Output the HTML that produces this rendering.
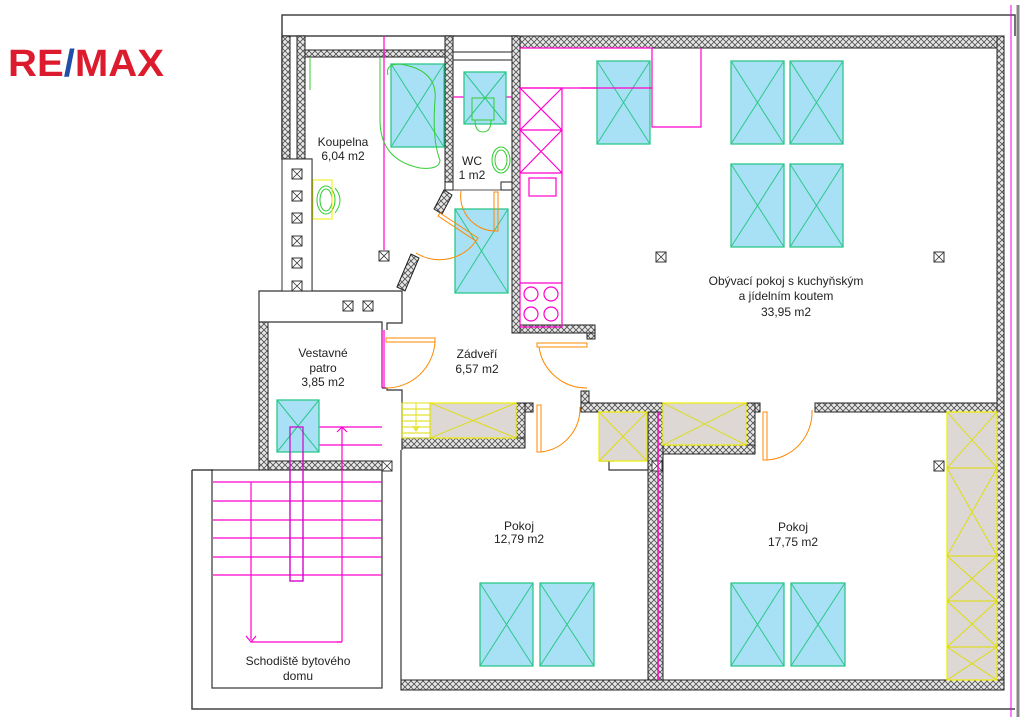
<!DOCTYPE html>
<html><head><meta charset="utf-8"><style>
html,body{margin:0;padding:0;background:#fff;width:1024px;height:717px;overflow:hidden}
svg{display:block}
text{font-family:"Liberation Sans","DejaVu Sans",sans-serif;font-size:12px;fill:#222}
</style></head><body>
<svg width="1024" height="717" viewBox="0 0 1024 717" xmlns="http://www.w3.org/2000/svg">
<defs>
<pattern id="h" width="6" height="6" patternUnits="userSpaceOnUse">
<rect width="6" height="6" fill="#e8e8e8"/>
<path d="M0,0L6,6M6,0L0,6" stroke="#555" stroke-width="0.9"/>
</pattern>
<g id="vb"><rect x="-5" y="-5" width="10" height="10" fill="#fff" stroke="#333" stroke-width="1"/><path d="M-5,-5L5,5M5,-5L-5,5" stroke="#333" stroke-width="0.8"/></g>
</defs>

<!-- Logo -->
<text x="8" y="76" textLength="156" lengthAdjust="spacingAndGlyphs" style="font-size:38px;font-weight:bold;fill:#dc1c2e">RE<tspan fill="#1f4fa8">/</tspan>MAX</text>

<!-- outer frame -->
<g fill="none" stroke="#444" stroke-width="1.5">
<path d="M282,160V15H1015V36"/>
<path d="M282,36H519"/>
<path d="M192,470V709H1015"/>
<path d="M192,470H213"/>
</g>
<line x1="1011" y1="5" x2="1011" y2="717" stroke="#e0e" stroke-width="1"/>
<line x1="1018" y1="5" x2="1018" y2="717" stroke="#888" stroke-width="3"/>

<!-- hatched walls -->
<g fill="url(#h)" stroke="#222" stroke-width="1">
<rect x="519" y="36" width="485" height="12"/>
<rect x="997" y="36" width="7" height="654"/>
<rect x="401" y="680" width="603" height="10"/>
<rect x="282" y="36" width="8" height="124"/>
<rect x="297" y="36" width="8" height="124"/>
<rect x="305" y="50" width="140" height="7"/>
<rect x="445" y="36" width="8" height="148"/>
<rect x="453" y="52" width="59" height="0" />
<rect x="512" y="36" width="8" height="297"/>
<rect x="520" y="325" width="75" height="8"/>
<rect x="587" y="333" width="8" height="6"/>
<rect x="259" y="322" width="9" height="148"/>
<rect x="268" y="461" width="114" height="9"/>
<rect x="402" y="438" width="123" height="10"/>
<rect x="516" y="403" width="9" height="35"/>
<rect x="525" y="403" width="8" height="9"/>
<rect x="581" y="403" width="179" height="9"/>
<rect x="648" y="412" width="15" height="268"/>
<rect x="663" y="445" width="92" height="9"/>
<rect x="746" y="403" width="9" height="42"/>
<rect x="815" y="403" width="182" height="9"/>
<rect x="581" y="391" width="8" height="12"/>
<polygon points="434,209 444,190 452,195 442,214"/>
<polygon points="397,287 411,254 419,258 405,291"/>
</g>
<!-- WC top -->
<rect x="453" y="52" width="59" height="8" fill="#fff" stroke="#222"/>
<rect x="445" y="182" width="8" height="8" fill="#fff" stroke="#222"/>
<rect x="501" y="182" width="11" height="8" fill="#fff" stroke="#222"/>
<line x1="453" y1="190" x2="501" y2="190" stroke="#555"/>

<!-- shaft & boxes -->
<g fill="none" stroke="#333" stroke-width="1.2">
<path d="M282,159H312V291"/>
<path d="M259,322V291H402V323H387V330"/>
<path d="M259,322H382V388"/>
<path d="M382,388H387V390H402V450"/>
<path d="M401,450V690"/>
<rect x="212" y="470" width="170" height="218"/>
<path d="M614,461H599"/>
<path d="M609,461V470H648"/>
</g>
<rect x="282" y="159" width="30" height="132" fill="#fff" stroke="#333"/>
<g>
<use href="#vb" x="297" y="174"/><use href="#vb" x="297" y="196"/><use href="#vb" x="297" y="218"/>
<use href="#vb" x="297" y="241"/><use href="#vb" x="297" y="263"/><use href="#vb" x="297" y="286"/>
<use href="#vb" x="348" y="306"/><use href="#vb" x="368" y="306"/>
<use href="#vb" x="384" y="256"/><use href="#vb" x="661" y="257"/><use href="#vb" x="939" y="257"/>
<use href="#vb" x="939" y="466"/><use href="#vb" x="657" y="466"/><use href="#vb" x="387" y="466"/>
</g>

<!-- magenta lines -->
<g fill="none" stroke="#f0c" stroke-width="1.2">
<path d="M520,48H652V127H701V48"/>
<path d="M453,97H512"/>
<path d="M520,88H652"/>
<path d="M384,36V250"/>
<path d="M658,412V680" stroke-width="1.5"/>
<rect x="520" y="88" width="42" height="239"/>
<path d="M520,88L562,130M562,88L520,130M520,130H562M520,130L562,173M562,130L520,173M520,173H562M520,283H562"/>
<rect x="529" y="178" width="27" height="18"/>
<circle cx="531" cy="294" r="7"/><circle cx="551" cy="294" r="7"/><circle cx="531" cy="314" r="7"/><circle cx="551" cy="314" r="7"/>
<path d="M213,482H382M213,501H382M213,520H382M213,538H382M213,557H382M213,575H382"/>
<path d="M251,482V640M342,427V642M251,642H342"/>
<path d="M246,636L251,642L256,636M337,642L342,642"/>
<path d="M337,432L342,427L347,432"/>
<rect x="290" y="427" width="13" height="154"/>
<path d="M303,427H382M303,445H382"/>
<path d="M382,330V388M384,330V388"/>
</g>

<!-- windows -->
<g fill="#a8e0f5" stroke="#2cc88a" stroke-width="1.3">
<rect x="597" y="61" width="53" height="83"/><rect x="731" y="61" width="53" height="83"/><rect x="790" y="61" width="53" height="83"/>
<rect x="731" y="164" width="53" height="83"/><rect x="790" y="164" width="53" height="83"/>
<rect x="480" y="583" width="53" height="83"/><rect x="540" y="583" width="54" height="83"/>
<rect x="731" y="583" width="53" height="83"/><rect x="791" y="583" width="54" height="83"/>
<rect x="391" y="64" width="53" height="83"/><rect x="464" y="72" width="42" height="52"/>
<rect x="455" y="209" width="53" height="84"/><rect x="277" y="400" width="42" height="52"/>
</g>
<g stroke="#2cc88a" stroke-width="1">
<path d="M597,61L650,144M650,61L597,144M731,61L784,144M784,61L731,144M790,61L843,144M843,61L790,144"/>
<path d="M731,164L784,247M784,164L731,247M790,164L843,247M843,164L790,247"/>
<path d="M480,583L533,666M533,583L480,666M540,583L594,666M594,583L540,666"/>
<path d="M731,583L784,666M784,583L731,666M791,583L845,666M845,583L791,666"/>
<path d="M391,64L444,147M444,64L391,147M464,72L506,124M506,72L464,124M455,209L508,293M508,209L455,293M277,400L319,452M319,400L277,452"/>
</g>
<!-- magenta over window -->
<path d="M580,88H652" stroke="#f0c" stroke-width="1.2"/>
<rect x="290" y="427" width="13" height="154" fill="none" stroke="#c0c" stroke-width="1.2"/>

<!-- sanitary green -->
<g fill="none" stroke="#3c3" stroke-width="1">
<path d="M380,58V120Q380,160 420,168Q440,170 440,160Q432,140 435,100Q438,70 400,64Q385,64 388,75"/>
<path d="M310,58V90"/>
<rect x="472" y="98" width="22" height="22"/>
<path d="M475,120Q475,132 483,132Q491,132 491,120"/>
<ellipse cx="501" cy="160" rx="9" ry="13"/>
<ellipse cx="501" cy="160" rx="6" ry="10"/>
<ellipse cx="326" cy="200" rx="9" ry="14"/>
<ellipse cx="326" cy="200" rx="6" ry="11"/>
<path d="M335,188Q345,200 335,213"/>
</g>
<rect x="313" y="180" width="19" height="39" fill="none" stroke="#ee0"/>

<!-- yellow furniture -->
<g fill="#ddd8d4" stroke="#ee0" stroke-width="1.2">
<rect x="430" y="403" width="86" height="35"/>
<rect x="599" y="412" width="48" height="49"/>
<rect x="663" y="403" width="83" height="42"/>
<rect x="947" y="412" width="50" height="268"/>
</g>
<g fill="none" stroke="#dd0" stroke-width="0.9">
<path d="M430,403L516,438M516,403L430,438M599,412L647,461M647,412L599,461M663,403L746,445M746,403L663,445"/>
<path d="M947,468H997M947,556H997M947,601H997M947,647H997"/>
<path d="M947,412L997,468M997,412L947,468M947,468L997,556M997,468L947,556M947,556L997,601M997,556L947,601M947,601L997,647M997,601L947,647M947,647L997,680M997,647L947,680"/>
<rect x="402" y="403" width="28" height="35"/>
<path d="M402,409H430M402,415H430M402,421H430M402,427H430M402,433H430M416,403V430M413,426L416,431L419,426"/>
</g>

<!-- doors orange -->
<g fill="none" stroke="#f80" stroke-width="1">
<path d="M386,338H435V342H386Z"/>
<path d="M435,342A49,49 0 0 1 386,388"/>
<path d="M537,343H587V347H537Z"/>
<path d="M539,347A48,48 0 0 0 587,388"/>
<path d="M537,405H541V452H537Z"/>
<path d="M541,452A44,44 0 0 0 580,407"/>
<path d="M763,412H767V460H763Z"/>
<path d="M767,460A48,48 0 0 0 812,410"/>
<path d="M440,213L478,238L476,241L438,216Z"/>
<path d="M476,241A45,45 0 0 1 416,253"/>
<path d="M494,192H498V231H494Z"/>
<path d="M461,191A35,35 0 0 0 494,231"/>
</g>

<!-- labels -->
<g text-anchor="middle">
<text x="343" y="146">Koupelna</text><text x="343" y="160">6,04 m2</text>
<text x="472" y="165">WC</text><text x="472" y="179">1 m2</text>
<text x="786" y="285">Obývací pokoj s kuchyňským</text><text x="786" y="300">a jídelním koutem</text><text x="786" y="316">33,95 m2</text>
<text x="477" y="358">Zádveří</text><text x="477" y="373">6,57 m2</text>
<text x="323" y="357">Vestavné</text><text x="323" y="372">patro</text><text x="323" y="386">3,85 m2</text>
<text x="519" y="530">Pokoj</text><text x="519" y="543">12,79 m2</text>
<text x="793" y="531">Pokoj</text><text x="793" y="546">17,75 m2</text>
<text x="298" y="665">Schodiště bytového</text><text x="298" y="680">domu</text>
</g>
</svg>
</body></html>
